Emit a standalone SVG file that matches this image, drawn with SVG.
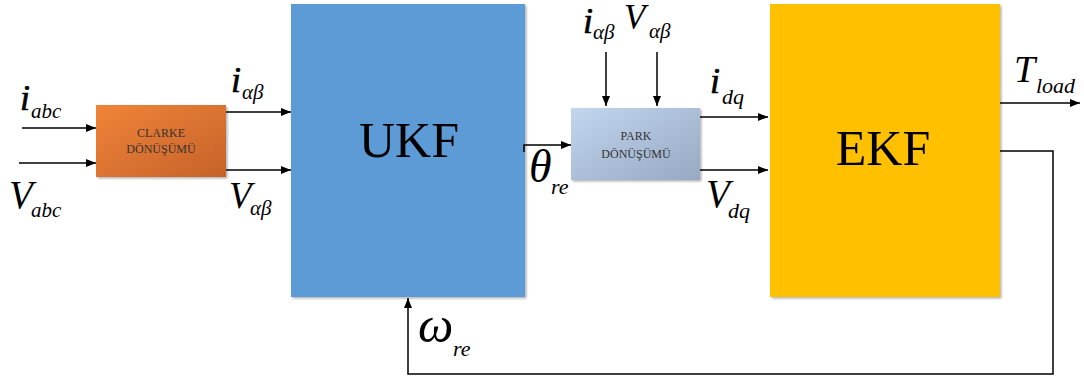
<svg xmlns="http://www.w3.org/2000/svg" width="1084" height="376" viewBox="0 0 1084 376">
  <defs>
    <linearGradient id="gClarke" x1="0" y1="0" x2="1" y2="1">
      <stop offset="0" stop-color="#F08438"/>
      <stop offset="1" stop-color="#C6622A"/>
    </linearGradient>
    <linearGradient id="gPark" x1="0" y1="0" x2="1" y2="1">
      <stop offset="0" stop-color="#C2D6EE"/>
      <stop offset="1" stop-color="#97A8C2"/>
    </linearGradient>
    <filter id="shadow" x="-10%" y="-10%" width="120%" height="120%">
      <feDropShadow dx="1.5" dy="1.5" stdDeviation="1.2" flood-color="#000" flood-opacity="0.3"/>
    </filter>
    <marker id="arrow" markerWidth="10" markerHeight="8" refX="10" refY="4" orient="auto" markerUnits="userSpaceOnUse">
      <path d="M0,0 L10,4 L0,8 Z" fill="#000"/>
    </marker>
  </defs>
  <style>
    .wire { fill: none; stroke: #000; stroke-width: 1.5; }
    .big { font-family: "Liberation Serif", "Times New Roman", serif; fill: #000; font-size: 50px; text-anchor: middle; }
    .sym { font-family: "Liberation Serif", "Times New Roman", serif; font-style: italic; fill: #000; }
    .cur { font-family: "Liberation Serif", "Times New Roman", serif; font-style: italic; fill: #000; stroke: #000; stroke-width: 0.6; font-size: 36px; }
    .small { font-family: "Liberation Serif", "Times New Roman", serif; font-size: 12px; fill: #333; text-anchor: middle; }
  </style>

  <!-- processing blocks -->
  <g id="clarke">
    <rect x="96" y="105" width="130" height="72" fill="url(#gClarke)" filter="url(#shadow)"/>
    <text class="small" x="161" y="137">CLARKE</text>
    <text class="small" x="161" y="153">DÖNÜŞÜMÜ</text>
  </g>
  <g id="ukf">
    <rect x="291" y="4" width="234" height="293" fill="#5B9BD5" filter="url(#shadow)"/>
    <text class="big" x="409" y="157">UKF</text>
  </g>
  <g id="park">
    <rect x="571" y="108" width="129" height="72" fill="url(#gPark)" filter="url(#shadow)"/>
    <text class="small" x="636" y="140">PARK</text>
    <text class="small" x="636" y="158">DÖNÜŞÜMÜ</text>
  </g>
  <g id="ekf">
    <rect x="770" y="4" width="230" height="293" fill="#FFC000" filter="url(#shadow)"/>
    <text class="big" x="883" y="165">EKF</text>
  </g>

  <!-- signal lines -->
  <g id="connectors">
    <path class="wire" d="M22,128 H96" marker-end="url(#arrow)"/>
    <path class="wire" d="M19,163 H96" marker-end="url(#arrow)"/>
    <path class="wire" d="M226,112 H291" marker-end="url(#arrow)"/>
    <path class="wire" d="M226,170 H291" marker-end="url(#arrow)"/>
    <path class="wire" d="M524,152 V145 H571" marker-end="url(#arrow)"/>
    <path class="wire" d="M606,52 V106" marker-end="url(#arrow)"/>
    <path class="wire" d="M657,52 V106" marker-end="url(#arrow)"/>
    <path class="wire" d="M700,117 H768" marker-end="url(#arrow)"/>
    <path class="wire" d="M700,170 H768" marker-end="url(#arrow)"/>
    <path class="wire" d="M1000,103 H1080" marker-end="url(#arrow)"/>
    <path class="wire" d="M1000,151 H1053 V374 H408 V298" marker-end="url(#arrow)"/>
  </g>

  <!-- signal labels -->
  <g id="labels">
    <text class="cur" x="20" y="110">i</text>
    <text class="sym" x="31" y="118" font-size="21">abc</text>

    <text class="sym" x="9" y="208" font-size="39">V</text>
    <text class="sym" x="31" y="217" font-size="21">abc</text>

    <text class="cur" x="231" y="92">i</text>
    <text class="sym" x="242" y="99" font-size="21">αβ</text>

    <text class="sym" x="229" y="208" font-size="37">V</text>
    <text class="sym" x="250" y="215" font-size="21">αβ</text>

    <text class="sym" x="529" y="182" font-size="46">θ</text>
    <text class="sym" x="551" y="194" font-size="22">re</text>

    <text class="cur" x="583" y="33">i</text>
    <text class="sym" x="593" y="39" font-size="21">αβ</text>

    <text class="sym" x="624" y="29" font-size="35">V</text>
    <text class="sym" x="649" y="38" font-size="21">αβ</text>

    <text class="cur" x="710" y="93">i</text>
    <text class="sym" x="722" y="104" font-size="22">dq</text>

    <text class="sym" x="706" y="207" font-size="39">V</text>
    <text class="sym" x="728" y="218" font-size="22">dq</text>

    <text class="sym" x="1014" y="82" font-size="38">T</text>
    <text class="sym" x="1036" y="93" font-size="22">load</text>

    <text class="sym" x="418" y="342" font-size="50">ω</text>
    <text class="sym" x="453" y="356" font-size="22">re</text>
  </g>
</svg>
